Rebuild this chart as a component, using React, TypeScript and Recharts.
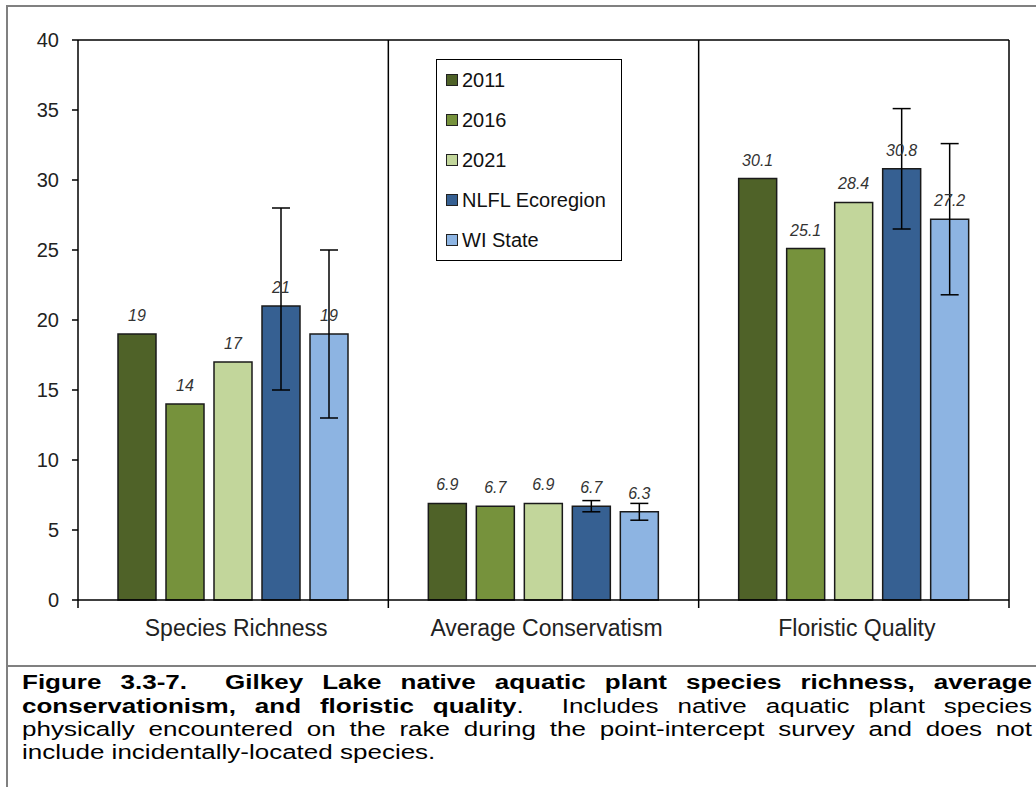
import React from 'react';
import {
  BarChart,
  Bar,
  XAxis,
  YAxis,
  ErrorBar,
  LabelList,
  Legend,
  ReferenceLine,
} from 'recharts';

// chart values
const categories = ['Species Richness', 'Average Conservatism', 'Floristic Quality'];
const seriesNames = ['2011', '2016', '2021', 'NLFL Ecoregion', 'WI State'];
const values2011 = [19, 6.9, 30.1];
const values2016 = [14, 6.7, 25.1];
const values2021 = [17, 6.9, 28.4];
const valuesNlfl = [21, 6.7, 30.8];
const valuesWi = [19, 6.3, 27.2];
// error bar ends (low / high)
const nlflLow = [15, 6.3, 26.5];
const nlflHigh = [28, 7.1, 35.1];
const wiLow = [13, 5.7, 21.8];
const wiHigh = [25, 6.9, 32.6];
const yTicks = [0, 5, 10, 15, 20, 25, 30, 35, 40];

const colors = ['#4F6228', '#76923C', '#C2D69B', '#366092', '#8DB4E2'];

// each category sits in the middle of a unit slot on a numeric x axis
const data = categories.map((name, i) => ({
  name,
  pos: i + 0.5,
  y2011: values2011[i],
  y2016: values2016[i],
  y2021: values2021[i],
  nlfl: valuesNlfl[i],
  wi: valuesWi[i],
  nlflErr: [valuesNlfl[i] - nlflLow[i], nlflHigh[i] - valuesNlfl[i]],
  wiErr: [valuesWi[i] - wiLow[i], wiHigh[i] - valuesWi[i]],
}));

const keys = ['y2011', 'y2016', 'y2021', 'nlfl', 'wi'];
const errKeys: (string | null)[] = [null, null, null, 'nlflErr', 'wiErr'];
const xTicks = [0, 0.5, 1, 1.5, 2, 2.5, 3];

// slot borders get a tick mark, slot centres get the category name
const XTick = (props: any) => {
  const { x, y, payload } = props;
  const v = payload.value;
  if (Number.isInteger(v)) {
    return <line x1={x} x2={x} y1={y} y2={y + 8} stroke="#000" strokeWidth={1.5} />;
  }
  return (
    <text x={x + 3} y={y + 36} textAnchor="middle" fontSize={23} fill="#222">
      {categories[Math.floor(v)]}
    </text>
  );
};

const renderLegend = (props: any) => {
  const { payload } = props;
  return (
    <div
      style={{
        border: '1.5px solid #000',
        width: 186,
        height: 202,
        boxSizing: 'border-box',
        background: '#fff',
      }}
    >
      {(payload || []).map((entry: any) => (
        <div key={entry.value} style={{ display: 'flex', alignItems: 'center', height: 40 }}>
          <span
            style={{
              display: 'inline-block',
              width: 12,
              height: 12,
              background: entry.color,
              border: '1.5px solid #222',
              boxSizing: 'border-box',
              marginLeft: 9,
              marginRight: 4,
            }}
          />
          <span style={{ fontSize: 20, color: '#111' }}>{entry.value}</span>
        </div>
      ))}
    </div>
  );
};

export default function App() {
  return (
    <div
      style={{
        position: 'absolute',
        left: 0,
        top: 0,
        width: 1036,
        height: 787,
        background: '#fff',
        fontFamily: "'Liberation Sans', Arial, sans-serif",
        overflow: 'hidden',
      }}
    >
      {/* grey frame */}
      <div style={{ position: 'absolute', left: 6, top: 5, width: 2, height: 782, background: '#808080' }} />
      <div style={{ position: 'absolute', left: 6, top: 5, width: 1030, height: 2, background: '#808080' }} />
      <div style={{ position: 'absolute', left: 6, top: 665, width: 1030, height: 2, background: '#808080' }} />

      <div style={{ position: 'absolute', left: 0, top: 0 }}>
        <BarChart
          width={1036}
          height={665}
          data={data}
          margin={{ top: 40, right: 27, bottom: 0, left: 0 }}
          barSize={38}
          barGap={10}
        >
          <XAxis
            dataKey="pos"
            type="number"
            domain={[0, 3]}
            ticks={xTicks}
            interval={0}
            height={65}
            tickLine={false}
            tickSize={0}
            tickMargin={0}
            tick={<XTick />}
            axisLine={{ stroke: '#000', strokeWidth: 1.5 }}
          />
          <YAxis
            width={78}
            domain={[0, 40]}
            ticks={yTicks}
            tickSize={6}
            tickMargin={13}
            tick={{ fontSize: 20, fill: '#222' }}
            axisLine={{ stroke: '#000', strokeWidth: 1.5 }}
            tickLine={{ stroke: '#000', strokeWidth: 1.5 }}
          />
          <ReferenceLine y={40} stroke="#000" strokeWidth={1.5} />
          <ReferenceLine x={1} stroke="#000" strokeWidth={1.5} />
          <ReferenceLine x={2} stroke="#000" strokeWidth={1.5} />
          <ReferenceLine x={3} stroke="#000" strokeWidth={1.5} />
          <Legend
            content={renderLegend}
            layout="vertical"
            verticalAlign="middle"
            align="center"
            wrapperStyle={{ left: 436, top: 59, width: 186, height: 202 }}
          />
          {keys.map((k, i) => (
            <Bar
              key={k}
              dataKey={k}
              name={seriesNames[i]}
              fill={colors[i]}
              stroke="#1a1a1a"
              strokeWidth={1.5}
              isAnimationActive={false}
            >
              {errKeys[i] && (
                <ErrorBar
                  dataKey={errKeys[i] as string}
                  width={9}
                  stroke="#000"
                  strokeWidth={1.5}
                  direction="y"
                />
              )}
              <LabelList
                dataKey={k}
                position="top"
                offset={13}
                fill="#333"
                fontSize={16}
                fontStyle="italic"
              />
            </Bar>
          ))}
        </BarChart>
      </div>

      {/* caption (the source figure is squashed vertically) */}
      <div
        style={{
          position: 'absolute',
          left: 22,
          top: 671,
          width: 1010,
          fontSize: 26,
          lineHeight: '30px',
          color: '#000',
          transform: 'scaleY(0.77)',
          transformOrigin: 'top left',
        }}
      >
        <div style={{ textAlign: 'justify', textAlignLast: 'justify', fontWeight: 'bold' }}>
          Figure 3.3-7.&nbsp; Gilkey Lake native aquatic plant species richness, average
        </div>
        <div style={{ textAlign: 'justify', textAlignLast: 'justify' }}>
          <b>conservationism, and floristic quality</b>.&nbsp; Includes native aquatic plant species
        </div>
        <div style={{ textAlign: 'justify', textAlignLast: 'justify' }}>
          physically encountered on the rake during the point-intercept survey and does not
        </div>
        <div>include incidentally-located species.</div>
      </div>
    </div>
  );
}
